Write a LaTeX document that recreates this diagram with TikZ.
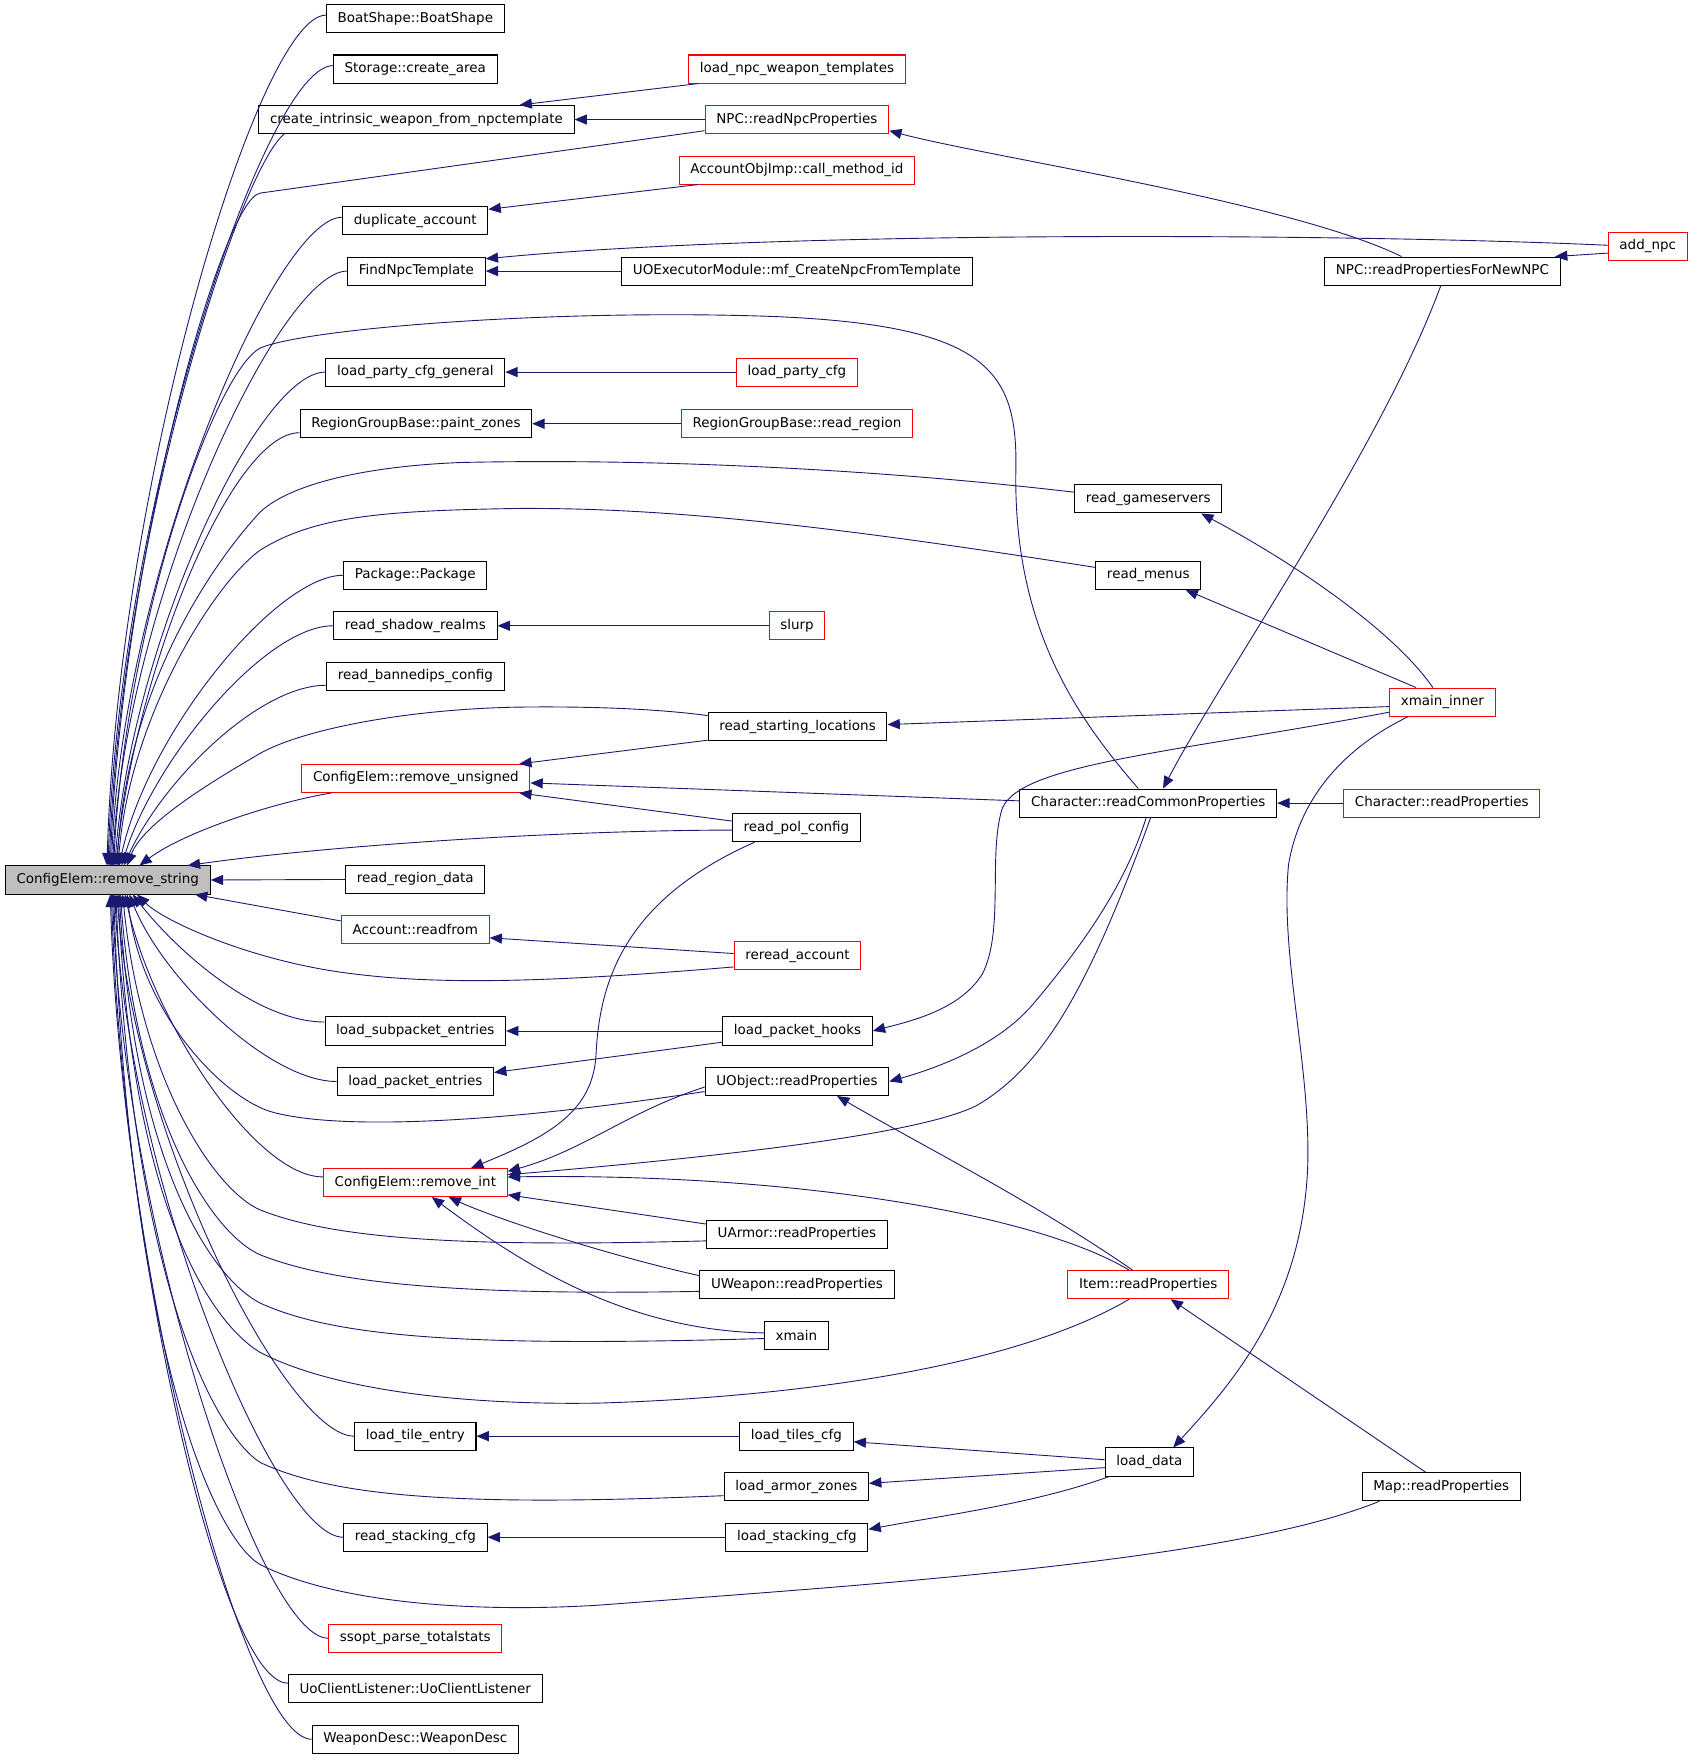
\documentclass[tikz,border=0pt]{standalone}
\usepackage{fontspec}
\setmainfont{DejaVu Sans}
\usetikzlibrary{arrows.meta}
\definecolor{edgeblue}{RGB}{25,25,112}
\tikzset{
  fn/.style={draw=black, fill=white, line width=0.9pt, inner xsep=10pt, inner ysep=0pt,
    minimum height=25pt, font=\fontsize{12}{14}\selectfont},
  fnred/.style={fn, draw=red},
  fnroot/.style={fn, fill=black!25},
  call/.style={draw=edgeblue, line width=0.8pt, {Triangle[length=11pt,width=9pt]}-},
}
\begin{document}
\begin{tikzpicture}[x=1pt,y=1pt]
\useasboundingbox (0,0) rectangle (1508,-1568);
% root
\node[fnroot] (rs) at (96,-784) {ConfigElem::remove\_string};
% first column
\node[fn] (bs) at (370,-16.5) {BoatShape::BoatShape};
\node[fn] (sca) at (370,-61.5) {Storage::create\_area};
\node[fn] (ciw) at (371,-106.5) {create\_intrinsic\_weapon\_from\_npctemplate};
\node[fn] (da) at (370,-196.5) {duplicate\_account};
\node[fn] (fnt) at (371,-241.5) {FindNpcTemplate};
\node[fn] (lpcg) at (370,-331.5) {load\_party\_cfg\_general};
\node[fn] (pz) at (370.5,-377.5) {RegionGroupBase::paint\_zones};
\node[fn] (pkg) at (370,-512.5) {Package::Package};
\node[fn] (rsr) at (370,-557.5) {read\_shadow\_realms};
\node[fn] (rbc) at (370,-602.5) {read\_bannedips\_config};
\node[fnred] (ru) at (370.5,-693.5) {ConfigElem::remove\_unsigned};
\node[fn] (rrd) at (370,-783.5) {read\_region\_data};
\node[fnred] (ar) at (370,-828.5) {Account::readfrom};
\node[fn] (lse) at (370,-918.5) {load\_subpacket\_entries};
\node[fn] (lpe) at (370,-963.5) {load\_packet\_entries};
\node[fnred] (ri) at (370,-1053.5) {ConfigElem::remove\_int};
\node[fn] (lte) at (370,-1279.5) {load\_tile\_entry};
\node[fn] (rsc) at (370,-1369.5) {read\_stacking\_cfg};
\node[fnred] (ssp) at (370,-1459.5) {ssopt\_parse\_totalstats};
\node[fn] (ucl) at (370,-1504.5) {UoClientListener::UoClientListener};
\node[fn] (wd) at (370,-1549.5) {WeaponDesc::WeaponDesc};
% second column
\node[fnred] (lnwt) at (710,-61.5) {load\_npc\_weapon\_templates};
\node[fnred] (nrnp) at (710,-106.5) {NPC::readNpcProperties};
\node[fnred] (aoi) at (710,-151.5) {AccountObjImp::call\_method\_id};
\node[fn] (uoem) at (710,-241.5) {UOExecutorModule::mf\_CreateNpcFromTemplate};
\node[fnred] (lpc) at (710,-331.5) {load\_party\_cfg};
\node[fnred] (rgr) at (710,-377.5) {RegionGroupBase::read\_region};
\node[fnred] (sl) at (710,-557.5) {slurp};
\node[fn] (rsl) at (710.5,-647.5) {read\_starting\_locations};
\node[fn] (rpc) at (709.5,-737.5) {read\_pol\_config};
\node[fnred] (rra) at (710.5,-851.5) {reread\_account};
\node[fn] (lph) at (710.5,-918.5) {load\_packet\_hooks};
\node[fn] (uo) at (710,-963.5) {UObject::readProperties};
\node[fn] (ua) at (710,-1099.5) {UArmor::readProperties};
\node[fn] (uw) at (710,-1144.5) {UWeapon::readProperties};
\node[fn] (xm) at (709.5,-1189.5) {xmain};
\node[fn] (ltc) at (709.5,-1279.5) {load\_tiles\_cfg};
\node[fn] (laz) at (709.5,-1324.5) {load\_armor\_zones};
\node[fn] (lsc) at (710,-1369.5) {load\_stacking\_cfg};
% third column
\node[fn] (rg) at (1023,-444.5) {read\_gameservers};
\node[fn] (rm) at (1023,-512.5) {read\_menus};
\node[fn] (crp) at (1023,-715.5) {Character::readCommonProperties};
\node[fnred] (ir) at (1023,-1144.5) {Item::readProperties};
\node[fn] (ld) at (1024,-1302.5) {load\_data};
% fourth column
\node[fn] (npfn) at (1285,-241.5) {NPC::readPropertiesForNewNPC};
\node[fnred] (xi) at (1285,-625.5) {xmain\_inner};
\node[fnred] (chp) at (1284.5,-715.5) {Character::readProperties};
\node[fn] (mp) at (1284,-1324.5) {Map::readProperties};
\node[fnred] (an) at (1468,-219.5) {add\_npc};

% fan above the root
\foreach \n/\s/\cx/\h/\dy in {bs/91/10/340/3, sca/92/10/320/3, da/95/10/259/3, fnt/96/12/238/0,
    lpcg/98/15/198/0, pz/99/18/177/-8, pkg/102/25/117/0, rsr/104/30/96/0, rbc/106/35/76/-8}
  \draw[call] ([xshift=\s pt]rs.north west) .. controls +(\cx,\h) and +(-60,0) .. ([yshift=\dy pt]\n.west);
\draw[call] ([xshift=93pt]rs.north west) .. controls +(11,300) and +(-39,-31) .. ([xshift=23pt]ciw.south west);
\draw[call] ([xshift=120pt]rs.north west) .. controls +(40,30) and +(-50,-8) .. ([xshift=27pt]ru.south west);
\draw[call] ([xshift=94pt]rs.north west) .. controls +(10,270) and (197,-177) .. (232,-172)
  -- ([yshift=3pt]nrnp.south west);
\draw[call] ([xshift=97pt]rs.north west) .. controls +(10,210) and (190,-332) .. (232,-310)
  .. controls (275,-292) and (500,-275) .. (690,-282) .. controls (880,-290) and (907,-330) .. (905,-420)
  .. controls (903,-560) and (960,-640) .. ([xshift=106pt]crp.north west);
\draw[call] ([xshift=100pt]rs.north west) .. controls +(10,171) and (200,-490) .. (232,-456)
  .. controls (260,-430) and (330,-415) .. (412,-412) .. controls (600,-408) and (800,-420) .. ([yshift=6pt]rg.west);
\draw[call] ([xshift=101pt]rs.north west) .. controls +(10,131) and (190,-520) .. (232,-490)
  .. controls (280,-460) and (340,-455) .. (460,-453) .. controls (600,-452) and (750,-470) .. ([yshift=7pt]rm.west);
\draw[call] ([xshift=109pt]rs.north west) .. controls +(15,40) and (200,-690) .. (232,-671)
  .. controls (270,-650) and (360,-632) .. (460,-630) .. controls (530,-629) and (590,-632) .. ([yshift=10pt]rsl.west);
\draw[call] ([xshift=163pt]rs.north west) .. controls (280,-755) and (480,-740) .. ([yshift=-2pt]rpc.west);

% fan below the root
\foreach \n/\s/\cx/\h/\dy in {lse/114/40/51/8, lpe/111/30/75/0, ri/107/25/113/5, lte/100/15/217/0,
    rsc/98/12/257/0, ssp/96/10/298/0, ucl/95/10/316/5, wd/94/10/339/0}
  \draw[call] ([xshift=\s pt]rs.south west) .. controls +(\cx,-\h) and +(-60,0) .. ([yshift=\dy pt]\n.west);
\draw[call] ([xshift=-14pt]rs.south east) -- ([yshift=8pt]ar.west);
\draw[call] ([xshift=118pt]rs.south west) .. controls +(23,-23) and (215,-852) .. (296,-865)
  .. controls (380,-878) and (480,-876) .. ([yshift=3pt]rra.south west);
\draw[call] ([xshift=109pt]rs.south west) .. controls +(12,-103) and (195,-975) .. (240,-990)
  .. controls (300,-1008) and (450,-1000) .. ([yshift=4pt]uo.south west);
\draw[call] ([xshift=105pt]rs.south west) .. controls +(16,-163) and (190,-1060) .. (232,-1078)
  .. controls (300,-1105) and (420,-1111) .. ([yshift=-6pt]ua.west);
\draw[call] ([xshift=103pt]rs.south west) .. controls +(15,-203) and (190,-1100) .. (232,-1118)
  .. controls (300,-1145) and (420,-1154) .. ([yshift=-6pt]uw.west);
\draw[call] ([xshift=102pt]rs.south west) .. controls +(14,-243) and (190,-1140) .. (232,-1161)
  .. controls (300,-1192) and (420,-1200) .. ([yshift=-3pt]xm.west);
\draw[call] ([xshift=101pt]rs.south west) .. controls +(13,-283) and (190,-1180) .. (232,-1205)
  .. controls (300,-1240) and (420,-1252) .. (534,-1250) .. controls (700,-1245) and (900,-1220) .. ([xshift=55pt]ir.south west);
\draw[call] ([xshift=99pt]rs.south west) .. controls +(15,-353) and (195,-1280) .. (232,-1303)
  .. controls (300,-1335) and (420,-1342) .. ([yshift=-8pt]laz.west);
\draw[call] ([xshift=97pt]rs.south west) .. controls +(14,-403) and (190,-1370) .. (232,-1394)
  .. controls (300,-1428) and (420,-1437) .. (534,-1430) .. controls (800,-1410) and (1100,-1390) .. ([xshift=16pt]mp.south west);

% straight calls
\foreach \a/\b in {ciw/nrnp, fnt/uoem, lpcg/lpc, pz/rgr, rsr/sl, crp/chp, lse/lph, lte/ltc, rsc/lsc, rs/rrd}
  \draw[call] (\a.east) -- (\b.west);
\draw[call] ([xshift=-49pt]ciw.north east) -- ([xshift=9pt]lnwt.south west);
\draw[call] ([yshift=10pt]da.east) -- ([xshift=17pt]aoi.south west);
\draw[call] ([yshift=3pt]nrnp.south east) .. controls (880,-140) and (1150,-180) .. ([xshift=69pt]npfn.north west);
\draw[call] ([xshift=-5pt]npfn.north east) -- ([yshift=-6pt]an.west);
\draw[call] ([yshift=-2pt]fnt.north east) .. controls (700,-205) and (1200,-208) .. ([yshift=1pt]an.west);
\draw[call] ([xshift=-19pt]rg.south east) .. controls (1150,-500) and (1240,-560) .. ([xshift=39pt]xi.north west);
\draw[call] ([xshift=-14pt]rm.south east) -- ([xshift=24pt]xi.north west);
\draw[call] ([yshift=2pt]rsl.east) -- ([yshift=-4pt]xi.west);
\draw[call] ([xshift=-10pt]ru.north east) -- ([yshift=1pt]rsl.south west);
\draw[call] ([yshift=-4pt]ru.east) -- ([yshift=2pt]crp.west);
\draw[call] ([xshift=-10pt]ru.south east) -- ([yshift=6pt]rpc.west);
\draw[call] ([yshift=-7pt]ar.east) -- ([yshift=2pt]rra.west);
\draw[call] ([xshift=128pt]crp.north west) .. controls (1090,-600) and (1230,-400) .. ([xshift=104pt]npfn.south west);
\draw[call] (lph.east) .. controls (810,-910) and (855,-900) .. (875,-868) .. controls (895,-830) and (880,-760) .. (893,-720)
  .. controls (910,-680) and (1050,-670) .. ([yshift=-9pt]xi.west);
\draw[call] ([yshift=8pt]lpe.east) -- ([yshift=-10pt]lph.west);
\draw[call] (uo.east) .. controls (840,-950) and (890,-930) .. (920,-895) .. controls (975,-830) and (1005,-780) .. ([xshift=113pt]crp.south west);
\draw[call] ([xshift=118pt]uo.south west) .. controls (820,-1020) and (920,-1070) .. ([xshift=58pt]ir.north west);
% calls of remove_int
\draw[call] ([xshift=132pt]ri.north west) .. controls (490,-1012) and (528,-990) .. (531,-940)
  .. controls (534,-870) and (560,-800) .. ([xshift=20pt]rpc.south west);
\draw[call] ([yshift=-3pt]ri.north east) .. controls (520,-1025) and (560,-990) .. ([yshift=-5pt]uo.west);
\draw[call] ([yshift=-6pt]ri.north east) .. controls (650,-1030) and (820,-1010) .. (870,-985)
  .. controls (930,-950) and (970,-880) .. ([xshift=117pt]crp.south west);
\draw[call] ([yshift=-8pt]ri.north east) .. controls (700,-1045) and (920,-1080) .. ([xshift=55pt]ir.north west);
\draw[call] ([yshift=2pt]ri.south east) -- ([yshift=9pt]ua.west);
\draw[call] ([xshift=112pt]ri.south west) .. controls (440,-1085) and (540,-1118) .. ([yshift=8pt]uw.west);
\draw[call] ([xshift=97pt]ri.south west) .. controls (470,-1130) and (560,-1185) .. ([yshift=2pt]xm.west);
% lower right part
\draw[call] ([xshift=-52pt]ir.south east) -- ([xshift=57pt]mp.north west);
\draw[call] ([xshift=61pt]ld.north west) .. controls (1100,-1230) and (1160,-1160) .. (1165,-1040)
  .. controls (1168,-950) and (1140,-850) .. (1148,-770) .. controls (1160,-700) and (1210,-660) .. ([xshift=17pt]xi.south west);
\draw[call] ([yshift=-5pt]ltc.east) -- ([yshift=2pt]ld.west);
\draw[call] ([yshift=3pt]laz.east) -- ([yshift=-5pt]ld.west);
\draw[call] ([yshift=7pt]lsc.east) .. controls (840,-1350) and (920,-1340) .. ([xshift=4pt]ld.south west);
\end{tikzpicture}
\end{document}
